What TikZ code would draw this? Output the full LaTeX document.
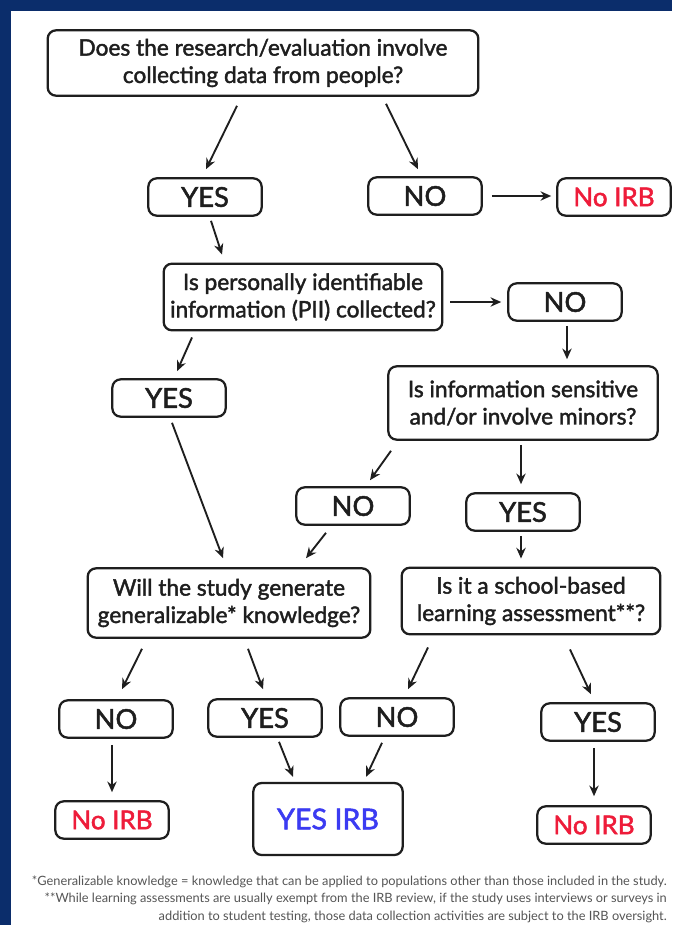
\documentclass[tikz,border=0pt]{standalone}
\usepackage{fontspec}
\setmainfont{Lato}[FakeBold=1.8]
\newfontfamily\notefont{Lato}
\usetikzlibrary{arrows.meta,calc}
\definecolor{Frame}{HTML}{0B2D6B}
\definecolor{Ink}{HTML}{1E1E1E}
\definecolor{NoRed}{HTML}{EE1C3A}
\definecolor{YesBlue}{HTML}{3B3BF2}
\definecolor{Note}{HTML}{555555}

\begin{document}
\begin{tikzpicture}[
  x=0.75pt,y=-0.75pt,
  qbox/.style={draw=Ink,line width=1.7pt,rounded corners=2.2mm,align=center,inner sep=0pt,text=Ink,font=\fontsize{17}{20.5}\selectfont},
  abox/.style={qbox,minimum width=85pt,minimum height=28pt,font=\fontsize{20.5}{22}\selectfont},
  irb/.style={abox,font=\fontsize{19.5}{22}\selectfont},
  arr/.style={-{Stealth[length=8pt,width=7pt]},line width=1.4pt,draw=Ink}
]
  \useasboundingbox (0,0) rectangle (672,925);
  \fill[white] (0,0) rectangle (672,925);
  \fill[Frame] (0,0) rectangle (672,11);
  \fill[Frame] (0,0) rectangle (11,925);

  % questions
  \node[qbox,minimum width=323pt,minimum height=49pt] (people) at (263,63) {Does the research/evaluation involve\\collecting data from people?};
  \node[qbox,minimum width=209pt,minimum height=50pt] (pii) at (303,297) {Is personally identifiable\\information (PII) collected?};
  \node[qbox,minimum width=202pt,minimum height=55pt] (sensitive) at (523,403) {Is information sensitive\\and/or involve minors?};
  \node[qbox,minimum width=212pt,minimum height=52pt] (general) at (229,603) {Will the study generate\\generalizable* knowledge?};
  \node[qbox,minimum width=194pt,minimum height=50pt] (school) at (531,601) {Is it a school-based\\learning assessment**?};

  % answers
  \node[abox] (peopleyes) at (205,197) {YES};
  \node[abox] (peopleno) at (425,196) {NO};
  \node[abox] (piiyes) at (169,398) {YES};
  \node[abox] (piino) at (565,302) {NO};
  \node[abox] (sensno) at (353,506) {NO};
  \node[abox] (sensyes) at (523,512) {YES};
  \node[abox] (genno) at (116,719) {NO};
  \node[abox] (genyes) at (265,718) {YES};
  \node[abox] (schoolno) at (397,717) {NO};
  \node[abox] (schoolyes) at (598,722) {YES};

  % results
  \node[irb,text=NoRed] (noirbA) at (614,197) {No IRB};
  \node[irb,text=NoRed] (noirbB) at (112,820) {No IRB};
  \node[irb,text=NoRed] (noirbC) at (594,825) {No IRB};
  \node[qbox,minimum width=112pt,minimum height=54pt,text=YesBlue,font=\fontsize{21.5}{22}\selectfont] (yesirb) at (328,819) {YES IRB};

  \draw[arr] ($(people.south)+(-26,9)$) -- ($(peopleyes.north)+(1,-8)$);
  \draw[arr] ($(people.south)+(123,7)$) -- ($(peopleno.north)+(-7,-7)$);
  \draw[arr] ($(peopleno.east)+(9,0)$) -- ($(peopleno.east -| noirbA.west)+(-5,0)$);
  \draw[arr] ($(peopleyes.south)+(6,4)$) -- ($(pii.north)+(-81,-8)$);
  \draw[arr] ($(pii.east |- piino.west)+(7,0)$) -- ($(piino.west)+(-6,0)$);
  \draw[arr] ($(piino.south)+(2,4)$) -- ($(piino.south |- sensitive.north)+(2,-6)$);
  \draw[arr] ($(pii.south)+(-111,6)$) -- ($(piiyes.north)+(8,-7)$);
  \draw[arr] ($(piiyes.south)+(3,5)$) -- ($(general.north)+(-6,-9)$);
  \draw[arr] ($(sensitive.south)+(-132,10)$) -- ($(sensno.north)+(17,-6)$);
  \draw[arr] ($(sensno.south)+(-27,7)$) -- ($(general.north)+(77,-9)$);
  \draw[arr] ($(sensitive.south)+(-2,4)$) -- ($(sensyes.north)+(-2,-8)$);
  \draw[arr] ($(sensyes.south)+(-2,4)$) -- ($(school.north)+(-10,-8)$);
  \draw[arr] ($(general.south)+(-87,10)$) -- ($(genno.north)+(6,-10)$);
  \draw[arr] ($(general.south)+(19,10)$) -- ($(genyes.north)+(-2,-9)$);
  \draw[arr] ($(school.south)+(-103,12)$) -- ($(schoolno.north)+(11,-8)$);
  \draw[arr] ($(school.south)+(39,14)$) -- ($(schoolyes.north)+(-7,-8)$);
  \draw[arr] ($(genno.south)+(-4,6)$) -- ($(noirbB.north)+(0,-8)$);
  \draw[arr] ($(genyes.south)+(14,4)$) -- ($(yesirb.north)+(-35,-5)$);
  \draw[arr] ($(schoolno.south)+(-15,6)$) -- ($(yesirb.north)+(38,-5)$);
  \draw[arr] ($(schoolyes.south)+(-4,6)$) -- ($(noirbC.north)+(0,-9)$);

  \node[anchor=north east,align=right,inner sep=0pt,text=Note,font=\notefont\fontsize{9.6}{12.8}\selectfont] (notes) at (667,876)
    {*Generalizable knowledge = knowledge that can be applied to populations other than those included in the study.\\
     **While learning assessments are usually exempt from the IRB review, if the study uses interviews or surveys in\\
     addition to student testing, those data collection activities are subject to the IRB oversight.};
\end{tikzpicture}
\end{document}
